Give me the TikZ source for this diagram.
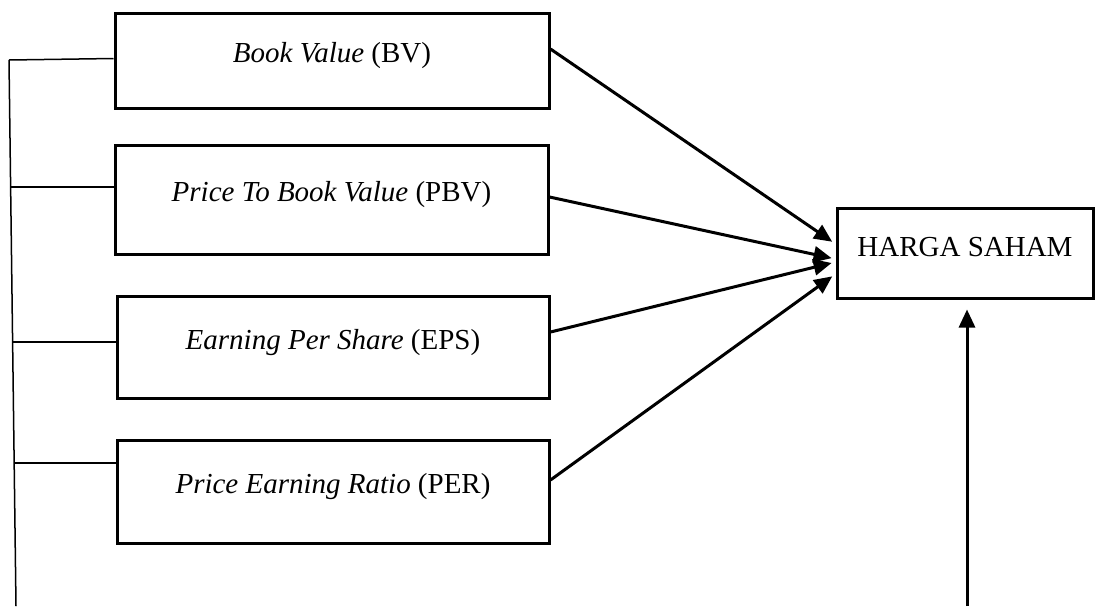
\documentclass[tikz,border=0pt]{standalone}
\usepackage{fontspec}
\setmainfont{Liberation Serif}
\usetikzlibrary{arrows.meta}
\begin{document}
\begin{tikzpicture}[x=1pt,y=-1pt,
  varbox/.style={draw,line width=3pt,inner sep=0pt,text height=20pt,text depth=16pt,
    font=\fontsize{29}{34}\selectfont},
  thin/.style={line width=1.5pt},
  arr/.style={line width=3pt,-{Triangle[length=18pt,width=16pt]},shorten >=4pt}]
\useasboundingbox (0,0) rectangle (1095,606);
\node[varbox,minimum width=434pt,minimum height=95pt] (b1) at (332,60.5) {\textit{Book Value} (BV)};
\node[varbox,minimum width=433pt,minimum height=109pt] (b2) at (331.5,199.5) {\textit{Price To Book Value} (PBV)};
\node[varbox,minimum width=432pt,minimum height=102pt] (b3) at (333,347) {\textit{Earning Per Share} (EPS)};
\node[varbox,minimum width=432pt,minimum height=103pt] (b4) at (333,491.5) {\textit{Price Earning Ratio} (PER)};
\node[varbox,minimum width=256pt,minimum height=90pt,text depth=14pt] (h) at (965,253) {HARGA SAHAM};
% left bracket line
\coordinate (ltop) at (9,60);
\coordinate (lbot) at (16,606);
\coordinate (l2) at (11,187);
\coordinate (l3) at (13,342);
\coordinate (l4) at (15,463);
\draw[thin] (ltop) -- (lbot);
\draw[thin] (ltop) -- ([yshift=2pt]b1.west);
\draw[thin] (l2) -- (l2 -| b2.west);
\draw[thin] (l3) -- (l3 -| b3.west);
\draw[thin] (l4) -- (l4 -| b4.west);
% arrows to HARGA SAHAM
\draw[arr] ([yshift=11.5pt]b1.east) -- ([yshift=9pt]h.west);
\draw[arr] ([yshift=2.5pt]b2.east) -- ([yshift=-6pt]h.west);
\draw[arr] ([yshift=15pt]b3.east) -- ([yshift=-9pt]h.west);
\draw[arr] ([yshift=11.5pt]b4.east) -- ([yshift=-21pt]h.west);
% vertical arrow
\coordinate (up) at (967,606);
\draw[arr,shorten >=10pt] (up) -- (up |- h.south);
\end{tikzpicture}
\end{document}
